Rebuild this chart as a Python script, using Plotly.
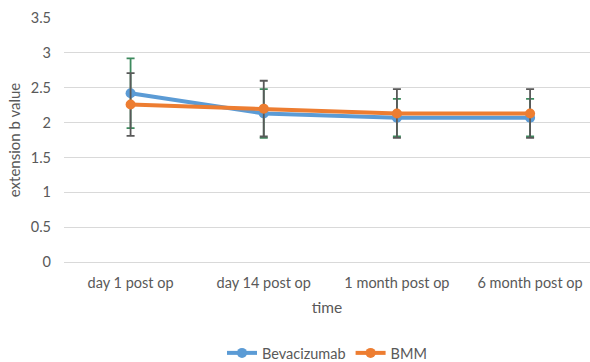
import plotly.graph_objects as go

# Follow-up time points
categories = ["day 1 post op", "day 14 post op", "1 month post op", "6 month post op"]

# Mean extension b values per group
bevacizumab = [2.42, 2.13, 2.07, 2.07]
bmm = [2.26, 2.20, 2.13, 2.13]

# Standard deviation per group
bevacizumab_sd = [0.50, 0.35, 0.27, 0.27]
bmm_sd = [0.45, 0.40, 0.35, 0.35]

y_ticks = [0, 0.5, 1, 1.5, 2, 2.5, 3, 3.5]

BLUE = "#5B9BD5"
ORANGE = "#ED7D31"
FONT = "Lato"
TEXT = "#595959"

fig = go.Figure()

fig.add_trace(go.Scatter(
    x=list(range(len(categories))), y=bevacizumab, name="Bevacizumab",
    mode="lines+markers",
    line=dict(color=BLUE, width=4),
    marker=dict(color=BLUE, size=10),
    error_y=dict(type="data", array=bevacizumab_sd, visible=True,
                 color="#3E8A5E", thickness=1.8, width=4),
))
fig.add_trace(go.Scatter(
    x=list(range(len(categories))), y=bmm, name="BMM",
    mode="lines+markers",
    line=dict(color=ORANGE, width=4),
    marker=dict(color=ORANGE, size=10),
    error_y=dict(type="data", array=bmm_sd, visible=True,
                 color="#595959", thickness=1.8, width=4),
))

fig.update_layout(
    width=590, height=362,
    margin=dict(l=64, r=0, t=18, b=100, autoexpand=False),
    paper_bgcolor="white", plot_bgcolor="white",
    font=dict(family=FONT, size=14, color=TEXT),
    showlegend=True,
    legend=dict(orientation="h", x=0.5, xref="paper", xanchor="center",
                yref="container", y=0.025, yanchor="middle",
                font=dict(size=14.5, color=TEXT),
                itemwidth=30, tracegroupgap=0),
)

fig.update_xaxes(
    tickmode="array", tickvals=list(range(len(categories))), ticktext=categories,
    range=[-0.5, 3.45], showgrid=False, zeroline=False,
    showline=False, ticks="", ticklabelstandoff=10, automargin=False,
    title=dict(text="time", standoff=12, font=dict(size=15.5, color=TEXT)),
    tickfont=dict(size=14.5, color=TEXT),
)
fig.update_yaxes(
    range=[0, 3.5], tickvals=y_ticks, ticktext=[f"{v:g}" for v in y_ticks],
    showgrid=True, gridcolor="#D9D9D9", gridwidth=1,
    zeroline=True, zerolinecolor="#D9D9D9", zerolinewidth=1,
    showline=False, ticks="", ticklabelstandoff=12, automargin=False,
    title=dict(text="extension b value", standoff=6, font=dict(size=15, color=TEXT)),
    tickfont=dict(size=14.5, color=TEXT),
)

fig.write_html("out.html")
